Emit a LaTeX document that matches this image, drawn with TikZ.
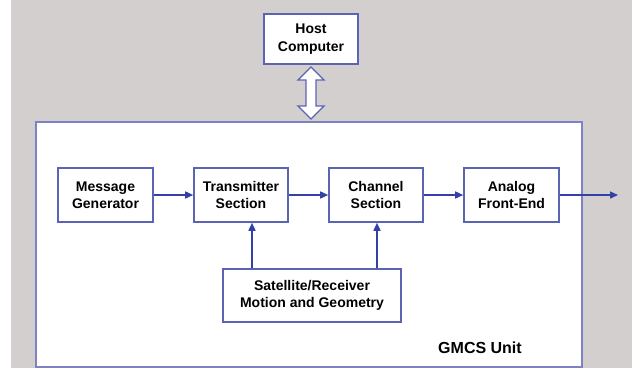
\documentclass[tikz,border=0pt]{standalone}
\usepackage{fontspec}
\setmainfont{Liberation Sans}
\usetikzlibrary{arrows.meta}
\definecolor{panel}{HTML}{D3CFCE}
\definecolor{edge}{HTML}{5B63B5}
\definecolor{flow}{HTML}{3341A6}
\tikzset{
  x=1pt, y=-1pt,
  block/.style={draw=edge, line width=1.6pt, fill=white, align=center,
    font=\fontsize{14}{17.5}\selectfont\bfseries, inner sep=0pt},
  flowline/.style={draw=flow, line width=1.5pt,
    -{Triangle[length=8pt,width=7pt]}}
}
\begin{document}
\begin{tikzpicture}
\useasboundingbox (0,0) rectangle (633,368);
% backdrop
\fill[panel] (11,0) rectangle (632,368);

% unit frame
\node[draw=edge!80, line width=1.6pt, fill=white, minimum width=546pt,
  minimum height=245pt, inner sep=0pt] (unit) at (309,244.5) {};
\node[font=\fontsize{16}{19}\selectfont\bfseries] (unitlabel) at (480,348) {GMCS Unit};

% host
\node[block, minimum width=94pt, minimum height=50pt] (host) at (311,39) {Host\\Computer};

% hollow double arrow between host and unit
\coordinate (btop) at (311,67);
\coordinate (bbot) at (311,119);
\filldraw[draw=edge, line width=1.4pt, fill=white, line join=miter]
  (btop) -- ++(13,13) -- ++(-8,0) -- ++(0,26) -- ++(8,0) -- (bbot)
  -- ++(-13,-13) -- ++(8,0) -- ++(0,-26) -- ++(-8,0) -- cycle;

% signal chain
\node[block, minimum width=95pt, minimum height=54pt] (msg) at (105.5,195) {Message\\Generator};
\node[block, minimum width=94pt, minimum height=54pt] (tx)  at (241,195) {Transmitter\\Section};
\node[block, minimum width=94pt, minimum height=54pt] (ch)  at (376,195) {Channel\\Section};
\node[block, minimum width=95pt, minimum height=54pt] (afe) at (511.5,195) {Analog\\Front-End};
\node[block, minimum width=178pt, minimum height=53pt] (sat) at (312,295.5) {Satellite/Receiver\\Motion and Geometry};
\coordinate (out) at (618,195);

\draw[flowline] (msg) -- (tx);
\draw[flowline] (tx) -- (ch);
\draw[flowline] (ch) -- (afe);
\draw[flowline] (afe) -- (out);
\draw[flowline] ([xshift=11pt]tx.south |- sat.north) -- ([xshift=11pt]tx.south);
\draw[flowline] ([xshift=1pt]ch.south |- sat.north) -- ([xshift=1pt]ch.south);
\end{tikzpicture}
\end{document}
